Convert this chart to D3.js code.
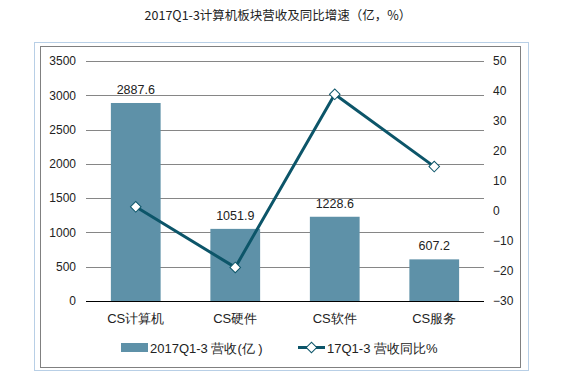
<!DOCTYPE html>
<html><head><meta charset="utf-8">
<script src="https://cdn.jsdelivr.net/npm/d3@7/dist/d3.min.js"></script>
<style>body{margin:0;background:#fff}</style>
</head><body>
<svg id="c" width="563" height="384"></svg>
<script>
const categories = ["CS计算机", "CS硬件", "CS软件", "CS服务"];
const revenue = [2887.6, 1051.9, 1228.6, 607.2];
const growth = [1.4, -18.8, 38.9, 14.8];
const leftTicks = [0, 500, 1000, 1500, 2000, 2500, 3000, 3500];
const rightTicks = [-30, -20, -10, 0, 10, 20, 30, 40, 50];
const title = "2017Q1-3计算机板块营收及同比增速（亿，%）";
const legendBar = "2017Q1-3 营收(亿 )";
const legendLine = "17Q1-3 营收同比%";

const svg = d3.select("#c");
const barColor = "#5e91a8", lineColor = "#0c5569";
const font = "'Liberation Sans', Arial, sans-serif";

svg.append("rect").attr("x", 34.5).attr("y", 42.5).attr("width", 494).attr("height", 328)
  .attr("fill", "none").attr("stroke", "#b8cfe6").attr("stroke-width", 1);
svg.append("rect").attr("x", 40.5).attr("y", 46.5).attr("width", 480).attr("height", 321)
  .attr("fill", "#fff").attr("stroke", "#808080").attr("stroke-width", 1);

svg.append("text").attr("x", 278).attr("y", 20).attr("text-anchor", "middle")
  .attr("font-family", "'Noto Sans CJK SC', sans-serif").attr("font-size", 12.5).attr("fill", "#222")
  .text(title);

const x0 = 86, x1 = 484, yTop = 61, yBot = 301;
const x = d3.scaleBand().domain(categories).range([x0, x1]).paddingInner(0.5).paddingOuter(0.25);
const yL = d3.scaleLinear().domain([0, 3500]).range([yBot, yTop]);
const yR = d3.scaleLinear().domain([-30, 50]).range([yBot, yTop]);

// grid
svg.append("g").selectAll("line").data(leftTicks).join("line")
  .attr("x1", x0).attr("x2", x1)
  .attr("y1", d => Math.round(yL(d)) + 0.5).attr("y2", d => Math.round(yL(d)) + 0.5)
  .attr("stroke", d => d === 0 ? "#000" : "#868686").attr("stroke-width", 1);

// left axis
const gl = svg.append("g").attr("transform", `translate(${x0 - 10},0)`)
  .call(d3.axisLeft(yL).tickValues(leftTicks).tickFormat(d3.format("d")).tickSize(0).tickPadding(0));
gl.select(".domain").remove();
gl.selectAll("text").attr("font-family", font).attr("font-size", 12).attr("fill", "#222");

// right axis
const gr = svg.append("g").attr("transform", `translate(${x1 + 9},0)`)
  .call(d3.axisRight(yR).tickValues(rightTicks).tickFormat(d3.format("d")).tickSize(0).tickPadding(0));
gr.select(".domain").remove();
gr.selectAll("text").attr("font-family", font).attr("font-size", 12).attr("fill", "#222");

// bars
svg.append("g").selectAll("rect").data(categories).join("rect")
  .attr("x", d => x(d)).attr("width", x.bandwidth())
  .attr("y", (d, i) => yL(revenue[i])).attr("height", (d, i) => yBot - yL(revenue[i]))
  .attr("fill", barColor);

// baseline redraw on top
svg.append("line").attr("x1", x0).attr("x2", x1).attr("y1", yBot + 0.5).attr("y2", yBot + 0.5)
  .attr("stroke", "#000");

// value labels
svg.append("g").selectAll("text").data(categories).join("text")
  .attr("x", d => x(d) + x.bandwidth() / 2).attr("y", (d, i) => yL(revenue[i]) - 9)
  .attr("text-anchor", "middle").attr("font-family", font).attr("font-size", 12.5).attr("fill", "#222")
  .text((d, i) => revenue[i].toFixed(1));

// category labels
svg.append("g").selectAll("text").data(categories).join("text")
  .attr("x", d => x(d) + x.bandwidth() / 2).attr("y", 323)
  .attr("text-anchor", "middle").attr("font-family", font).attr("font-size", 13).attr("fill", "#222")
  .text(d => d);

// line
const line = d3.line().x((d, i) => x(categories[i]) + x.bandwidth() / 2).y(d => yR(d));
svg.append("path").datum(growth).attr("d", line).attr("fill", "none")
  .attr("stroke", lineColor).attr("stroke-width", 3).attr("stroke-linejoin", "round");
const diamond = d3.symbol().type(d3.symbolSquare).size(56);
svg.append("g").selectAll("path").data(growth).join("path")
  .attr("d", diamond)
  .attr("transform", (d, i) => `translate(${x(categories[i]) + x.bandwidth() / 2},${yR(d)}) rotate(45)`)
  .attr("fill", "#fff").attr("stroke", lineColor).attr("stroke-width", 1);

// legend
svg.append("rect").attr("x", 121).attr("y", 343).attr("width", 27).attr("height", 9).attr("fill", barColor);
svg.append("text").attr("x", 150).attr("y", 352.5).attr("font-family", font).attr("font-size", 13).attr("fill", "#222")
  .text(legendBar);
svg.append("line").attr("x1", 298).attr("x2", 325).attr("y1", 347.5).attr("y2", 347.5)
  .attr("stroke", lineColor).attr("stroke-width", 3);
svg.append("path").attr("d", diamond).attr("transform", "translate(311.5,347.5) rotate(45)")
  .attr("fill", "#fff").attr("stroke", lineColor).attr("stroke-width", 1);
svg.append("text").attr("x", 327).attr("y", 352.5).attr("font-family", font).attr("font-size", 13).attr("fill", "#222")
  .text(legendLine);
</script>
</body></html>
